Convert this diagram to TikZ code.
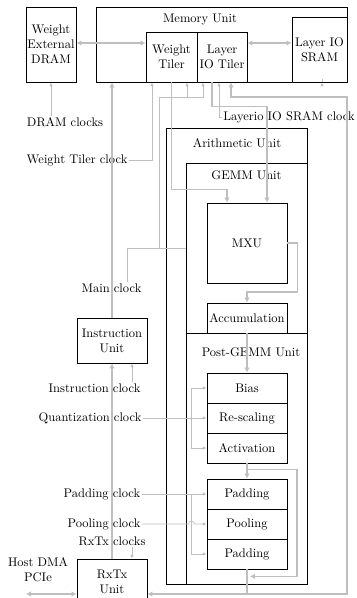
\documentclass[tikz,border=0pt]{standalone}
\usetikzlibrary{arrows.meta,calc}
\definecolor{wire}{gray}{0.75}
\begin{document}
\begin{tikzpicture}[x=0.8pt,y=-0.8pt,
  frame/.style={draw,line width=0.7pt},
  box/.style={draw,line width=0.7pt,inner sep=1pt,align=center},
  lbl/.style={inner sep=1pt,align=center},
  data/.style={draw=wire,line width=1.5pt,>={Latex[length=4pt,width=4.5pt]}},
  clk/.style={draw=wire,line width=0.55pt,>={Latex[length=3pt,width=2.8pt]}}]
\useasboundingbox (0,0) rectangle (357,598);

% enclosing units
\node[frame,minimum width=200.8pt,minimum height=60pt] (mem) at (221.5,44.5) {};
\node[lbl] (memlbl) at (200,20) {Memory Unit};
\node[frame,minimum width=112.8pt,minimum height=364.8pt] (arith) at (236.5,356) {};
\node[lbl] (arithlbl) at (237,143) {Arithmetic Unit};
\node[frame,minimum width=96.8pt,minimum height=136pt] (gemm) at (246.5,248) {};
\node[lbl] (gemmlbl) at (246.5,175) {GEMM Unit};
\node[frame,minimum width=96.8pt,minimum height=200.8pt] (post) at (246.5,458.5) {};
\node[lbl] (postlbl) at (251,352) {Post-GEMM Unit};

% blocks
\node[box,minimum width=40pt,minimum height=60pt] (dram) at (51,44.5) {Weight\\External\\DRAM};
\node[box,minimum width=40.8pt,minimum height=40pt] (wt) at (171.5,57) {Weight\\Tiler};
\node[box,minimum width=40pt,minimum height=40pt] (lt) at (222,57) {Layer\\IO Tiler};
\node[box,minimum width=44pt,minimum height=52pt] (sram) at (319.5,49.5) {Layer IO\\SRAM};
\node[box,minimum width=64pt,minimum height=64pt] (mxu) at (247,243) {MXU};
\node[box,minimum width=64pt,minimum height=24pt] (acc) at (247,318) {Accumulation};
\node[box,minimum width=64pt,minimum height=24pt] (bias) at (247,388) {Bias};
\node[box,minimum width=64pt,minimum height=24pt] (resc) at (247,418) {Re-scaling};
\node[box,minimum width=64pt,minimum height=24pt] (act) at (247,448) {Activation};
\node[box,minimum width=64pt,minimum height=24pt] (pad1) at (247,494) {Padding};
\node[box,minimum width=64pt,minimum height=24pt] (pool) at (247,524) {Pooling};
\node[box,minimum width=64pt,minimum height=24pt] (pad2) at (247,554) {Padding};
\node[box,minimum width=56pt,minimum height=36pt] (instr) at (112,340.5) {Instruction\\Unit};
\node[box,minimum width=56pt,minimum height=36pt] (rxtx) at (112,581.5) {RxTx\\Unit};

% clock labels
\node[lbl] (dramclk) at (65,122) {DRAM clocks};
\node[lbl] (wtclk) at (77,160) {Weight Tiler clock};
\node[lbl] (lioclk) at (289,117) {Layerio IO SRAM clock};
\node[lbl] (mainclk) at (111.5,288) {Main clock};
\node[lbl] (instrclk) at (94.5,388) {Instruction clock};
\node[lbl] (qclk) at (90,418) {Quantization clock};
\node[lbl] (padclk) at (102,494) {Padding clock};
\node[lbl] (poolclk) at (104,524) {Pooling clock};
\node[lbl] (rxclk) at (112,541) {RxTx clocks};
\node[lbl] (host) at (38,570) {Host DMA\\PCIe};

% helper points
\coordinate (busy) at (0,43);
\coordinate (ret) at (347,594);
\coordinate (hostend) at (26,594);
\coordinate (mcx) at ($(mainclk.north)+(15.5,0)$);
\coordinate (mcj) at (159,0);
\coordinate (icx) at ($(instr.south)+(20,0)$);
\coordinate (rcx) at ($(rxtx.north)+(20,0)$);

% data paths
\draw[data,<->] (dram.east |- busy) -- (wt.west |- busy);
\draw[data,<->] (lt.east |- busy) -- (sram.west |- busy);
\draw[data,->] (wt.south) |- ($(mxu.north)+(-20,-13)$) -- ($(mxu.north)+(-20,0)$);
\draw[data,->] ($(lt.south)+(-10,0)$) |- ($(mxu.north)+(20,-96)$) -- ($(mxu.north)+(20,0)$);
\draw[data,->] (mxu.east) -- ++(10,0) |- ($(acc.north)+(0,-11)$) -- (acc.north);
\draw[data,->] (acc.south) -- (bias.north);
\draw[data,->] (act.south) -- (pad1.north);
\draw[data,->] ($(act.south)+(0,6)$) -- ++(50,0) |- ($(pad2.south)+(3,7)$);
\draw[data,->] (pad2.south) -- (pad2.south |- ret) -- (rxtx.east |- ret);
\draw[data,->] (pad2.south |- ret) -- (ret) |- ($(lt.south)+(9,15)$) -- ($(lt.south)+(9,0)$);
\draw[data,->] (rxtx.north) -- (instr.south);
\draw[data,->] (instr.north) -- (instr.north |- mem.south);
\draw[data,<->] (hostend) -- (rxtx.west |- ret);

% clock lines
\draw[clk,->] (dram.south |- dramclk.north) -- (dram.south);
\draw[clk,->] (wtclk.east) -| ($(wt.south)+(-19.5,0)$);
\draw[clk,->] (lioclk.west) -| ($(lt.south)+(-3,0)$);
\draw[clk,->] ($(sram.south)+(2.5,0)$ |- lioclk.north) -- ($(sram.south)+(2.5,0)$);
\draw[clk] (mcx) |- (gemm.west);
\draw[clk,->] (mcj |- gemm.west) |- ($(lt.south)+(-19,15)$) -- ($(lt.south)+(-19,0)$);
\draw[clk,->] ($(wt.south)+(15.5,15)$) -- ($(wt.south)+(15.5,0)$);
\draw[clk,->] (icx |- instrclk.north) -- (icx);
\draw[clk,->] (qclk.east) -- (resc.west);
\draw[clk,<->] (bias.west) -- ++(-15,0) |- (act.west);
\draw[clk,->] (padclk.east) -- (pad1.west);
\draw[clk,->] ($(pad1.west)+(-15,0)$) |- (pad2.west);
\draw[clk,->] (poolclk.east) -- ($(pool.west)+(-18,0)$) arc[start angle=180,end angle=360,radius=3] -- (pool.west);
\draw[clk,->] (rcx |- rxclk.south) -- (rcx);
\end{tikzpicture}
\end{document}
